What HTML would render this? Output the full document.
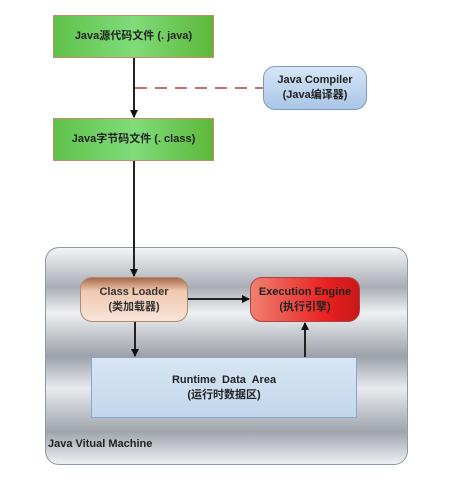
<!DOCTYPE html><html><head><meta charset="utf-8"><style>
body{margin:0;width:455px;height:483px;background:#fff;position:relative;overflow:hidden;font-family:"Liberation Sans","Noto Sans CJK SC",sans-serif;font-weight:bold;color:#222}
.b{position:absolute;display:flex;align-items:center;justify-content:center;text-align:center;font-size:11px;line-height:15px;box-sizing:border-box}
</style></head><body>
<div class="b" style="left:45px;top:247px;width:363px;height:218px;border:1px solid #8a9aa8;border-radius:14px;background:linear-gradient(#f4f5f7 0%,#a9adb5 18%,#eef0f2 30%,#9da2aa 50%,#e8eaee 65%,#a0a5ad 85%,#eef0f3 100%)"></div>
<div style="position:absolute;left:48px;top:438px;font-size:11px;font-weight:bold">Java Vitual Machine</div>
<div class="b" style="left:53px;top:15px;width:161px;height:43px;border:1px solid #c98a6a;background:linear-gradient(90deg,#5fc24a,#7fdc7a 50%,#5cb83a)">Java源代码文件 (. java)</div>
<div class="b" style="left:53px;top:118px;width:161px;height:43px;border:1px solid #c98a6a;background:linear-gradient(90deg,#5fc24a,#7fdc7a 50%,#5cb83a)">Java字节码文件 (. class)</div>
<div class="b" style="left:263px;top:66px;width:104px;height:44px;border:1px solid #7a9cc0;border-radius:12px;background:linear-gradient(#d6e6f6,#a9c6e6)">Java Compiler<br>(Java编译器)</div>
<div class="b" style="left:80px;top:277px;width:108px;height:45px;border:1px solid #b08a70;border-radius:12px;background:linear-gradient(#a86a4a 0%,#f0c8b0 30%,#f8e4d8 100%);color:#333">Class Loader<br>(类加载器)</div>
<div class="b" style="left:250px;top:277px;width:110px;height:45px;border:1px solid #b04040;border-radius:12px;background:linear-gradient(90deg,#f08070,#e82020 70%,#c81818);color:#222">Execution Engine<br>(执行引擎)</div>
<div class="b" style="left:91px;top:357px;width:266px;height:61px;border:1px solid #8aa6c6;background:linear-gradient(#d8e6f4,#c2d6ec)">Runtime&nbsp; Data&nbsp; Area<br>(运行时数据区)</div>
<svg width="455" height="483" style="position:absolute;left:0;top:0">
<defs><marker id="a" markerWidth="8" markerHeight="8" refX="7" refY="4" orient="auto" markerUnits="userSpaceOnUse"><path d="M0,0L8,4L0,8z" fill="#111"/></marker></defs>
<g stroke="#222" stroke-width="2" fill="none">
<line x1="134" y1="58" x2="134" y2="117" marker-end="url(#a)"/>
<line x1="134" y1="161" x2="134" y2="276" marker-end="url(#a)"/>
<line x1="188" y1="299" x2="249" y2="299" marker-end="url(#a)"/>
<line x1="135" y1="322" x2="135" y2="356" marker-end="url(#a)"/>
<line x1="305" y1="357" x2="305" y2="323" marker-end="url(#a)"/>
</g>
<line x1="135" y1="88" x2="263" y2="88" stroke="#b04040" stroke-width="1.5" stroke-dasharray="12,8"/>
</svg>
</body></html>
